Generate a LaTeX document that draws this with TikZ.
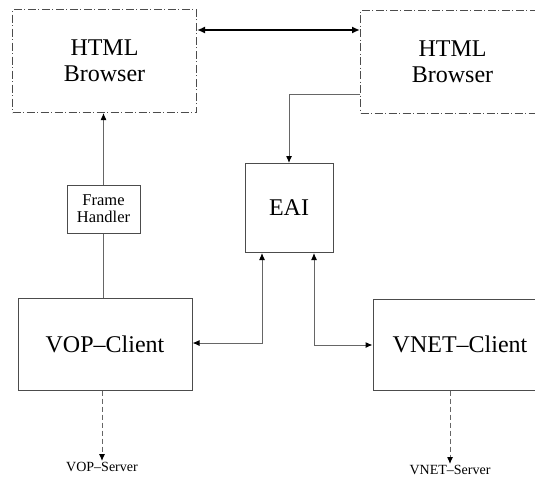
\documentclass[tikz,border=0pt]{standalone}
\usepackage{fontspec}
\setmainfont{Liberation Serif}
\usetikzlibrary{arrows.meta}
\begin{document}
\begin{tikzpicture}[x=1pt,y=-1pt,
  line width=0.9pt,
  box/.style={draw=black!70, line width=1pt, inner sep=0pt, align=center, font=\fontsize{24}{26}\selectfont},
  browser/.style={box, dash pattern=on 8pt off 2.5pt on 1pt off 2.5pt, minimum width=184pt, minimum height=103pt},
  smallbox/.style={box, font=\fontsize{16.5}{17}\selectfont, minimum width=73pt, minimum height=48pt},
  lab/.style={font=\fontsize{14}{14}\selectfont, inner sep=1pt},
  conn/.style={draw=black!60, line width=1pt},
  tip/.style={-{Latex[length=7pt,width=6pt,black]}},
  tips/.style={{Latex[length=7pt,width=6pt,black]}-{Latex[length=7pt,width=6pt,black]}}
]
\useasboundingbox (0,0) rectangle (535,477);
\clip (0,0) rectangle (535,477);
\node[browser] (lb) at (104.5,61) {HTML\\[0pt]Browser};
\node[browser] (rb) at (452.5,61.5) {HTML\\[0pt]Browser};
\node[box, minimum width=88pt, minimum height=89pt] (eai) at (289,208) {EAI};
\node[smallbox] (fh) at (103.5,209) {Frame\\Handler};
\node[box, minimum width=174pt, minimum height=92pt] (vop) at (105,344) {VOP--Client};
\node[box, minimum width=174pt, minimum height=91pt] (vnet) at (460,344.5) {VNET--Client};
\node[lab, anchor=north] (vs) at (102,461) {VOP--Server};
\node[lab, anchor=north] (ns) at (450,464) {VNET--Server};
\coordinate (ytop) at (0,30);
\coordinate (yrb) at (0,94);
\coordinate (xa) at (262,0);
\coordinate (xb) at (314,0);
\coordinate (ya) at (0,343);
\coordinate (yb) at (0,345);
\draw[line width=2.4pt, {Latex[length=8pt,width=7pt]}-{Latex[length=8pt,width=7pt]}] (lb.east |- ytop) -- (rb.west |- ytop);
\draw[conn, tip] (rb.west |- yrb) -| (eai.north);
\draw[conn, tip] (fh.north) -- (lb.south -| fh.north);
\draw[conn] (fh.south) -- (vop.north -| fh.south);
\draw[conn, tips] (eai.south -| xa) |- (vop.east |- ya);
\draw[conn, tips] (eai.south -| xb) |- (vnet.west |- yb);
\draw[conn, dash pattern=on 5pt off 3pt, tip] (vop.south -| vs.north) -- (vs.north);
\draw[conn, dash pattern=on 5pt off 3pt, tip] (vnet.south -| ns.north) -- (ns.north);
\end{tikzpicture}
\end{document}
